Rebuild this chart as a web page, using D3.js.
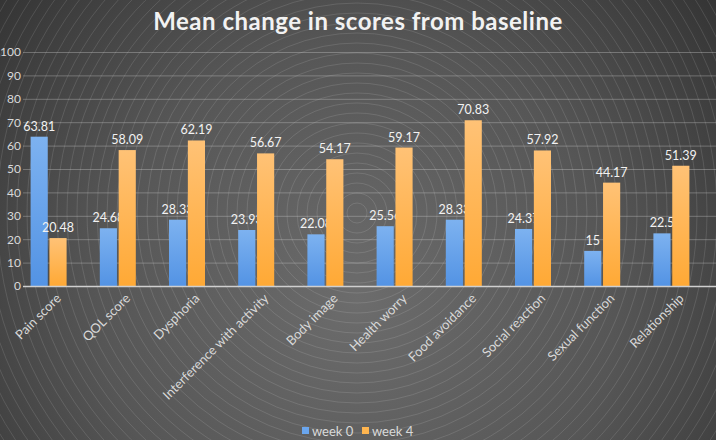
<!DOCTYPE html>
<html>
<head>
<meta charset="utf-8">
<script src="https://cdn.jsdelivr.net/npm/d3@7"></script>
<style>
  body { margin: 0; background: #3c3c3c; }
  svg { display: block; font-family: Lato, "Open Sans", sans-serif; }
</style>
</head>
<body>
<div id="chart"></div>
<script>
// data
var categories = ["Pain score", "QOL score", "Dysphoria", "Interference with activity", "Body image",
                  "Health worry", "Food avoidance", "Social reaction", "Sexual function", "Relationship"];
var week0 = [63.81, 24.68, 28.33, 23.93, 22.08, 25.56, 28.33, 24.37, 15, 22.5];
var week4 = [20.48, 58.09, 62.19, 56.67, 54.17, 59.17, 70.83, 57.92, 44.17, 51.39];
var seriesNames = ["week 0", "week 4"];
var yTicks = [0, 10, 20, 30, 40, 50, 60, 70, 80, 90, 100];

var W = 716, H = 440;

var svg = d3.select("#chart").append("svg").attr("width", W).attr("height", H);
var defs = svg.append("defs");

// background: dark radial gradient with thin rings
var bg = defs.append("radialGradient").attr("id", "bg")
    .attr("gradientUnits", "userSpaceOnUse")
    .attr("cx", 357).attr("cy", 300).attr("r", 470);
bg.append("stop").attr("offset", "0%").attr("stop-color", "#6c6c6c");
bg.append("stop").attr("offset", "55%").attr("stop-color", "#565656");
bg.append("stop").attr("offset", "100%").attr("stop-color", "#343434");

function barGrad(id, top, bottom){
    var g = defs.append("linearGradient").attr("id", id)
        .attr("x1", 0).attr("y1", 0).attr("x2", 0).attr("y2", 1);
    g.append("stop").attr("offset", "0%").attr("stop-color", top);
    g.append("stop").attr("offset", "100%").attr("stop-color", bottom);
}
barGrad("gBlue", "#7db2f0", "#5393e4");
barGrad("gOrange", "#ffc276", "#ffa935");

svg.append("rect").attr("width", W).attr("height", H).attr("fill", "url(#bg)");

var rings = d3.range(10, 480, 10);
svg.append("g").selectAll("circle").data(rings).enter().append("circle")
    .attr("cx", 357).attr("cy", 213).attr("r", function(d){ return d; })
    .attr("fill", "none").attr("stroke", "#ffffff")
    .attr("stroke-opacity", 0.15).attr("stroke-width", 0.8);

// scales
var x = d3.scaleBand().domain(categories).range([14, 706]);
var inner = d3.scaleBand().domain(seriesNames).range([0, 36]).paddingInner(0.09);
var y = d3.scaleLinear().domain([0, 100]).range([286, 52]);

// grid + y labels
var yAxis = svg.append("g").attr("transform", "translate(23,0)")
    .call(d3.axisLeft(y).tickValues(yTicks).tickSize(-(W - 23)).tickPadding(2));
yAxis.select(".domain").remove();
yAxis.selectAll(".tick line").attr("stroke", "#d0d0d0").attr("stroke-opacity", 0.35);
yAxis.selectAll(".tick text").attr("fill", "#d9d9d9").style("font-size", "12px")
    .style("font-family", "Lato, sans-serif");

// bars
var groups = svg.append("g").selectAll("g").data(categories).enter().append("g")
    .attr("transform", function(d){ return "translate(" + (x(d) + x.bandwidth() / 2 - 18) + ",0)"; });

var series = [
    {name: "week 0", values: week0, fill: "url(#gBlue)"},
    {name: "week 4", values: week4, fill: "url(#gOrange)"}
];

series.forEach(function(s){
    groups.append("rect")
        .attr("x", inner(s.name))
        .attr("width", inner.bandwidth())
        .attr("y", function(d, i){ return y(s.values[i]); })
        .attr("height", function(d, i){ return y(0) - y(s.values[i]); })
        .attr("fill", s.fill);
    groups.append("text")
        .attr("x", inner(s.name) + inner.bandwidth() / 2)
        .attr("y", function(d, i){ return y(s.values[i]) - 6; })
        .attr("text-anchor", "middle")
        .attr("fill", "#f2f2f2")
        .style("font-size", "12.5px")
        .text(function(d, i){ return s.values[i]; });
});

// x axis line
svg.append("line").attr("x1", 23).attr("x2", W).attr("y1", y(0) + 0.5).attr("y2", y(0) + 0.5)
    .attr("stroke", "#cfcfcf").attr("stroke-width", 1.5);

// category labels, rotated
svg.append("g").selectAll("text").data(categories).enter().append("text")
    .attr("transform", function(d){
        return "translate(" + (x(d) + x.bandwidth() / 2 + 10) + ",296) rotate(-45)";
    })
    .attr("text-anchor", "end")
    .attr("dy", "0.35em")
    .attr("fill", "#d9d9d9")
    .style("font-size", "13px")
    .text(function(d){ return d; });

// title
svg.append("text").attr("x", W / 2).attr("y", 30)
    .attr("text-anchor", "middle").attr("fill", "#f2f2f2")
    .style("font-size", "24px").style("font-weight", "bold")
    .style("letter-spacing", "0.5px")
    .text("Mean change in scores from baseline");

// legend
var legend = svg.append("g").attr("transform", "translate(302,431)");
var legendColors = ["#6aa6ee", "#ffb54f"];
var legendX = [0, 60];
seriesNames.forEach(function(n, i){
    legend.append("rect").attr("x", legendX[i]).attr("y", -4).attr("width", 7).attr("height", 7)
        .attr("fill", legendColors[i]);
    legend.append("text").attr("x", legendX[i] + 10).attr("y", 0).attr("dy", "0.35em")
        .attr("fill", "#d9d9d9").style("font-size", "13px").text(n);
});
</script>
</body>
</html>
